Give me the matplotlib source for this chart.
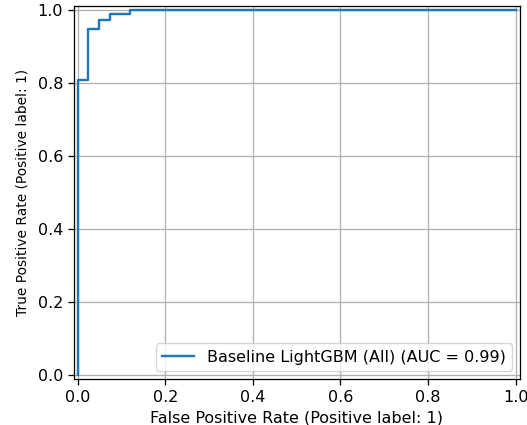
import matplotlib
matplotlib.use("Agg")
import matplotlib.pyplot as plt
from matplotlib import font_manager as fm

fpr = [0.0, 0.0, 0.023, 0.023, 0.048, 0.048, 0.073, 0.073, 0.12, 0.12, 1.0]
tpr = [0.0, 0.808, 0.808, 0.947, 0.947, 0.972, 0.972, 0.988, 0.988, 1.0, 1.0]
label = "Baseline LightGBM (All) (AUC = 0.99)"

s = 1.15
plt.rcParams.update({
    "font.size": 10 * s,
    "lines.linewidth": 1.5 * s,
    "axes.linewidth": 0.8 * s,
    "grid.linewidth": 0.8 * s,
    "xtick.major.size": 3.5 * s,
    "ytick.major.size": 3.5 * s,
    "xtick.major.width": 0.8 * s,
    "ytick.major.width": 0.8 * s,
})

names = {f.name for f in fm.fontManager.ttflist}
if "Liberation Sans Narrow" in names:
    yl_font = dict(family="Liberation Sans Narrow", fontsize=11.5)
else:
    yl_font = dict(fontsize=9.9)

fig = plt.figure(figsize=(5.27, 4.25), dpi=100)
ax = fig.add_axes([0.1395, 0.108, 0.847, 0.878])
ax.plot(fpr, tpr, color="#1f77b4", label=label)
ax.set_xlim(-0.01, 1.01)
ax.set_ylim(-0.01, 1.01)
ax.set_xlabel("False Positive Rate (Positive label: 1)")
ax.set_ylabel("True Positive Rate (Positive label: 1)", labelpad=6, **yl_font)
ax.grid(True)
ax.legend(loc="lower right")
fig.savefig("out.png", dpi=100)
